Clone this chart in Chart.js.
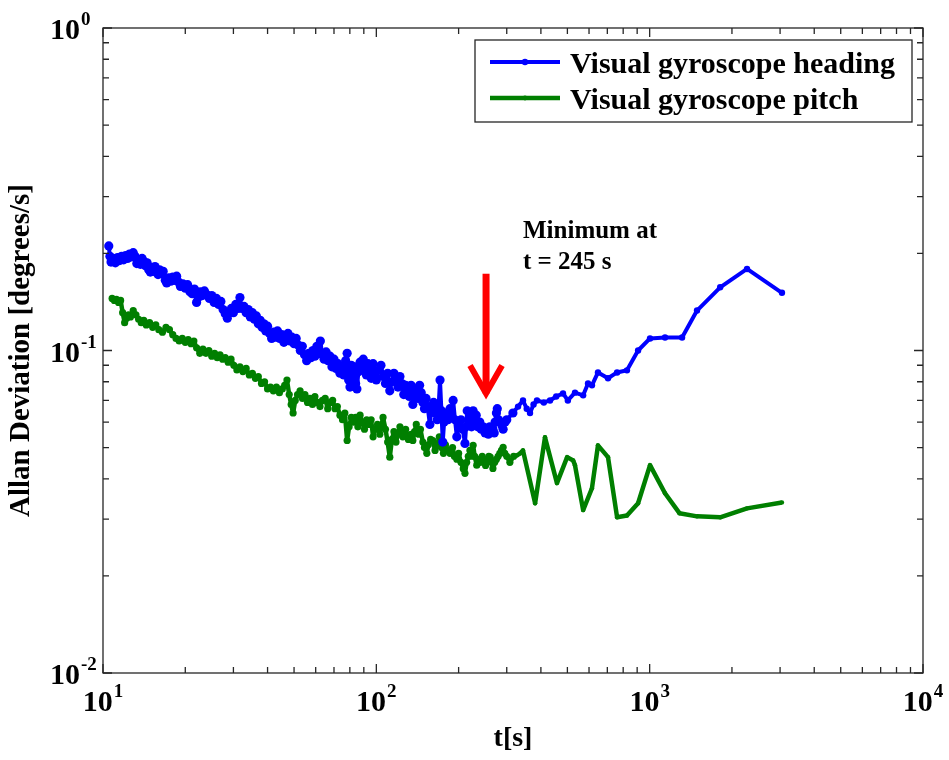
<!DOCTYPE html>
<html>
<head>
<meta charset="utf-8">
<script src="https://cdn.jsdelivr.net/npm/chart.js@4.4.1/dist/chart.umd.min.js"></script>
<style>
html, body { margin: 0; padding: 0; background: #fff; }
#wrap { width: 949px; height: 760px; position: relative; }
</style>
</head>
<body>
<div id="wrap"><canvas id="chart_allanDeviation"></canvas></div>
<script>
// values (tau in s, deviation in deg/s)
var headingTau = [10.5, 10.6, 10.7, 10.9, 11.1, 11.3, 11.5, 11.7, 11.9, 12.1, 12.3, 12.5, 12.7, 12.9, 13.1, 13.3, 13.5, 13.7, 13.9, 14.1,
    14.3, 14.5, 14.7, 14.9, 15.1, 15.3, 15.5, 15.7, 15.9, 16.1, 16.3, 16.6, 16.9, 17.1, 17.4, 17.7, 18.0, 18.3, 18.6, 18.9,
    19.2, 19.6, 20.0, 20.4, 20.8, 21.2, 21.6, 22.0, 22.3, 22.7, 23.1, 23.5, 24.0, 24.5, 25.0, 25.5, 26.0, 26.5, 27.0, 27.5,
    28.0, 28.5, 29.0, 29.5, 30.0, 30.6, 31.2, 31.7, 32.2, 32.8, 33.4, 34.0, 34.6, 35.2, 35.8, 36.4, 37.0, 37.6, 38.2, 38.8,
    39.4, 40.0, 40.7, 41.4, 42.1, 42.8, 43.5, 44.3, 45.1, 45.9, 46.7, 47.5, 48.3, 49.1, 50.0, 50.9, 51.8, 52.7, 53.6, 54.6,
    55.6, 56.6, 57.6, 58.6, 59.6, 60.6, 61.6, 62.4, 63.4, 64.4, 65.5, 66.6, 67.7, 68.8, 70.0, 71.2, 72.4, 73.6, 74.8, 76.0,
    77.2, 78.2, 79.2, 80.1, 81.0, 82.0, 83.0, 84.0, 84.9, 86.0, 87.2, 88.4, 89.6, 90.8, 92.0, 93.2, 94.5, 95.8, 97.3, 98.8,
    100, 102, 104, 106, 108, 110, 112, 114, 116, 118, 120, 122, 124, 126, 128, 130, 132, 134, 136, 138,
    140, 142, 144, 146, 148, 150, 152, 154, 157, 159, 162, 164, 167, 169, 171, 173, 175, 177, 180, 183,
    186, 188, 191, 194, 197, 200, 204, 207, 211, 213, 215, 218, 220, 223, 226, 229, 232, 235, 239, 242,
    246, 250, 254, 257, 260, 264, 267, 270, 272, 275, 277, 280, 284, 288, 291, 296, 300, 316, 330, 344,
    355, 365, 376, 387, 410, 432, 455, 482, 502, 533, 571, 595, 615, 647, 704, 760, 826, 907, 1003, 1138,
    1314, 1490, 1811, 2271, 3048];
var headingDev = [0.211, 0.196, 0.188, 0.193, 0.187, 0.194, 0.190, 0.196, 0.191, 0.197, 0.193, 0.199, 0.195, 0.201, 0.196, 0.186, 0.190, 0.185, 0.193, 0.189,
    0.183, 0.187, 0.178, 0.175, 0.181, 0.176, 0.182, 0.177, 0.172, 0.178, 0.173, 0.176, 0.165, 0.162, 0.168, 0.164, 0.169, 0.165, 0.170, 0.163,
    0.158, 0.161, 0.156, 0.160, 0.152, 0.150, 0.155, 0.141, 0.146, 0.152, 0.148, 0.153, 0.149, 0.145, 0.148, 0.141, 0.145, 0.139, 0.142, 0.134,
    0.130, 0.126, 0.131, 0.135, 0.131, 0.139, 0.135, 0.146, 0.135, 0.137, 0.131, 0.134, 0.127, 0.131, 0.125, 0.128, 0.121, 0.124, 0.118, 0.121,
    0.115, 0.119, 0.113, 0.109, 0.114, 0.110, 0.115, 0.109, 0.112, 0.106, 0.110, 0.113, 0.107, 0.110, 0.105, 0.109, 0.104, 0.100, 0.103, 0.097,
    0.093, 0.098, 0.095, 0.100, 0.096, 0.103, 0.098, 0.107, 0.097, 0.094, 0.099, 0.093, 0.096, 0.089, 0.094, 0.088, 0.091, 0.085, 0.089, 0.084,
    0.093, 0.098, 0.081, 0.077, 0.090, 0.083, 0.089, 0.079, 0.076, 0.086, 0.092, 0.087, 0.094, 0.088, 0.084, 0.091, 0.086, 0.082, 0.091, 0.085,
    0.081, 0.087, 0.090, 0.083, 0.079, 0.085, 0.075, 0.080, 0.085, 0.081, 0.077, 0.083, 0.079, 0.073, 0.078, 0.076, 0.072, 0.078, 0.068, 0.073,
    0.076, 0.071, 0.078, 0.074, 0.069, 0.066, 0.071, 0.067, 0.059, 0.066, 0.069, 0.064, 0.061, 0.067, 0.081, 0.065, 0.052, 0.060, 0.064, 0.061,
    0.066, 0.062, 0.070, 0.061, 0.054, 0.058, 0.061, 0.057, 0.0515, 0.058, 0.065, 0.060, 0.062, 0.058, 0.065, 0.061, 0.063, 0.058, 0.060, 0.057,
    0.058, 0.0555, 0.057, 0.055, 0.058, 0.056, 0.057, 0.0555, 0.060, 0.064, 0.066, 0.061, 0.060, 0.0585, 0.057, 0.060, 0.061, 0.064, 0.067, 0.070,
    0.066, 0.064, 0.068, 0.070, 0.069, 0.070, 0.072, 0.0736, 0.070, 0.074, 0.0726, 0.079, 0.078, 0.0855, 0.082, 0.0855, 0.0868, 0.100, 0.109, 0.1097,
    0.1097, 0.133, 0.157, 0.179, 0.151];

var pitchTau = [10.8, 11.0, 11.2, 11.4, 11.6, 11.8, 12.0, 12.2, 12.4, 12.6, 12.9, 13.2, 13.5, 13.8, 14.1, 14.4, 14.8, 15.2, 15.6, 16.0,
    16.5, 17.0, 17.5, 18.0, 18.5, 19.0, 19.5, 20.0, 20.5, 21.0, 21.5, 22.0, 22.6, 23.2, 23.8, 24.4, 25.0, 25.6, 26.2, 26.8,
    27.4, 28.0, 28.7, 29.4, 30.1, 30.9, 31.7, 32.5, 33.4, 34.3, 35.2, 36.1, 37.0, 38.0, 39.0, 40.0, 41.0, 42.0, 43.1, 44.2,
    45.3, 46.2, 47.1, 48.0, 48.8, 49.6, 50.5, 51.5, 52.6, 53.7, 54.8, 56.0, 57.2, 58.4, 59.6, 60.8, 62.2, 63.5, 65.0, 66.4,
    67.8, 69.2, 70.6, 72.0, 73.6, 75.2, 76.7, 78.2, 79.5, 81.0, 82.5, 84.0, 85.6, 87.2, 88.8, 90.5, 92.2, 94.0, 95.7, 97.3,
    99.0, 101, 103, 105.8, 108, 110, 112, 114, 116, 118, 120, 122, 125, 128, 131, 134, 136, 138, 140, 143,
    145, 148, 150, 153, 155, 158, 161, 164, 167, 170, 173, 176, 179, 183, 186, 190, 193, 197, 200, 204,
    208, 211, 214, 217, 220, 223, 226, 229, 233, 237, 240, 244, 247, 251, 254, 258, 261, 264, 267, 271,
    275, 279, 283, 287, 291, 295, 300, 308, 318, 327, 336, 344, 381, 414, 458, 499, 525, 533, 571, 615,
    647, 704, 760, 826, 907, 1003, 1138, 1285, 1490, 1811, 2271, 3048];
var pitchDev = [0.145, 0.143, 0.144, 0.141, 0.143, 0.131, 0.122, 0.126, 0.129, 0.127, 0.133, 0.129, 0.125, 0.122, 0.124, 0.120, 0.122, 0.118, 0.120, 0.116,
    0.114, 0.118, 0.116, 0.112, 0.109, 0.107, 0.109, 0.106, 0.108, 0.105, 0.107, 0.102, 0.098, 0.101, 0.098, 0.100, 0.096, 0.098, 0.095, 0.097,
    0.094, 0.095, 0.092, 0.094, 0.090, 0.087, 0.089, 0.086, 0.088, 0.084, 0.085, 0.082, 0.083, 0.079, 0.080, 0.076, 0.077, 0.075, 0.077, 0.074,
    0.076, 0.078, 0.081, 0.073, 0.068, 0.064, 0.070, 0.073, 0.075, 0.071, 0.073, 0.069, 0.071, 0.068, 0.072, 0.069, 0.067, 0.070, 0.071, 0.066,
    0.069, 0.070, 0.066, 0.067, 0.063, 0.061, 0.064, 0.0526, 0.058, 0.062, 0.060, 0.062, 0.058, 0.063, 0.060, 0.057, 0.061, 0.059, 0.061, 0.054,
    0.057, 0.059, 0.055, 0.062, 0.057, 0.052, 0.0467, 0.053, 0.056, 0.052, 0.055, 0.058, 0.054, 0.057, 0.053, 0.055, 0.0526, 0.056, 0.059, 0.055,
    0.057, 0.052, 0.050, 0.048, 0.051, 0.053, 0.0526, 0.049, 0.051, 0.054, 0.050, 0.048, 0.051, 0.049, 0.048, 0.050, 0.047, 0.046, 0.048, 0.045,
    0.043, 0.0416, 0.045, 0.047, 0.049, 0.047, 0.0508, 0.047, 0.0441, 0.046, 0.045, 0.047, 0.046, 0.044, 0.045, 0.047, 0.0467, 0.045, 0.0431, 0.045,
    0.046, 0.047, 0.048, 0.049, 0.0501, 0.048, 0.047, 0.045, 0.047, 0.0473, 0.048, 0.049, 0.0336, 0.0538, 0.0388, 0.0467, 0.0456, 0.0441, 0.032, 0.0374,
    0.0508, 0.0467, 0.0304, 0.0308, 0.0336, 0.0441, 0.0361, 0.0313, 0.0306, 0.0304, 0.0324, 0.0338];

var seriesLabels = ['Visual gyroscope heading', 'Visual gyroscope pitch'];
var seriesColors = ['#0000ff', '#007f00'];

var xTickValues = [10, 100, 1000, 10000];
var xTickExponents = ['1', '2', '3', '4'];
var yTickValues = [1, 0.1, 0.01];
var yTickExponents = ['0', '-1', '-2'];

var noteLines = ['Minimum at', 't = 245 s'];
var noteAnchor = {x: 344, y: 0.224};
var arrowAt = {x: 252, from: 0.173, to: 0.0715};

var SERIF = "'Liberation Serif', 'Times New Roman', serif";

function toPoints(xs, ys) {
    return xs.map(function (x, i) { return {x: x, y: ys[i]}; });
}

function minorValues(decades) {
    var out = [];
    decades.forEach(function (d) {
        for (var m = 2; m <= 9; m++) out.push(d * m);
    });
    return out;
}

// markers look heavier where the samples crowd together
function markerSize(dense, sparse) {
    return function (c) { return c.raw && c.raw.x < 320 ? dense : sparse; };
}

// "10" with a raised exponent, centred (x axis) or left-aligned (y axis)
function drawPower(ctx, exp, x, y, centred) {
    ctx.font = 'bold 30px ' + SERIF;
    var w1 = ctx.measureText('10').width;
    ctx.font = 'bold 19px ' + SERIF;
    var w2 = ctx.measureText(exp).width;
    var start = centred ? x - (w1 + w2 + 1) / 2 : x;
    ctx.textAlign = 'left';
    ctx.textBaseline = 'alphabetic';
    ctx.font = 'bold 30px ' + SERIF;
    ctx.fillText('10', start, y);
    ctx.font = 'bold 19px ' + SERIF;
    ctx.fillText(exp, start + w1 + 1, y - 14);
}

var frameAndLabels = {
    id: 'frameAndLabels',
    afterDraw: function (chart) {
        var ctx = chart.ctx;
        var a = chart.chartArea;
        var xs = chart.scales.x, ys = chart.scales.y;
        ctx.save();
        ctx.strokeStyle = '#262626';
        ctx.lineWidth = 1.3;
        ctx.strokeRect(a.left, a.top, a.right - a.left, a.bottom - a.top);

        // inward ticks on all four sides
        ctx.beginPath();
        function xTick(v, len) {
            var px = xs.getPixelForValue(v);
            ctx.moveTo(px, a.bottom); ctx.lineTo(px, a.bottom - len);
            ctx.moveTo(px, a.top); ctx.lineTo(px, a.top + len);
        }
        function yTick(v, len) {
            var py = ys.getPixelForValue(v);
            ctx.moveTo(a.left, py); ctx.lineTo(a.left + len, py);
            ctx.moveTo(a.right, py); ctx.lineTo(a.right - len, py);
        }
        xTickValues.forEach(function (v) { xTick(v, 9); });
        minorValues([10, 100, 1000]).forEach(function (v) { xTick(v, 6); });
        yTickValues.forEach(function (v) { yTick(v, 9); });
        minorValues([0.01, 0.1]).forEach(function (v) { yTick(v, 6); });
        ctx.stroke();

        // tick labels
        ctx.fillStyle = '#000';
        xTickValues.forEach(function (v, i) {
            drawPower(ctx, xTickExponents[i], xs.getPixelForValue(v), a.bottom + 38, true);
        });
        yTickValues.forEach(function (v, i) {
            drawPower(ctx, yTickExponents[i], 50, ys.getPixelForValue(v) + 11, false);
        });

        // annotation: arrow to the minimum and its note
        var ax = xs.getPixelForValue(arrowAt.x);
        var ay0 = ys.getPixelForValue(arrowAt.from);
        var ay1 = ys.getPixelForValue(arrowAt.to);
        ctx.strokeStyle = '#ff0000';
        ctx.lineWidth = 7;
        ctx.lineCap = 'butt';
        ctx.lineJoin = 'miter';
        ctx.beginPath();
        ctx.moveTo(ax, ay0); ctx.lineTo(ax, ay1 - 4);
        ctx.stroke();
        ctx.lineWidth = 6;
        ctx.beginPath();
        ctx.moveTo(ax - 16, ay1 - 32);
        ctx.lineTo(ax, ay1 - 4);
        ctx.lineTo(ax + 16, ay1 - 32);
        ctx.stroke();

        ctx.fillStyle = '#000';
        ctx.font = 'bold 25px ' + SERIF;
        ctx.textAlign = 'left';
        ctx.textBaseline = 'alphabetic';
        var nx = xs.getPixelForValue(noteAnchor.x);
        var ny = ys.getPixelForValue(noteAnchor.y);
        noteLines.forEach(function (line, i) { ctx.fillText(line, nx, ny + i * 31); });

        // legend box in the upper right corner
        var lx0 = 475, ly0 = 40, lx1 = 912, ly1 = 122;
        ctx.fillStyle = '#fff';
        ctx.fillRect(lx0, ly0, lx1 - lx0, ly1 - ly0);
        ctx.strokeStyle = '#262626';
        ctx.lineWidth = 1.3;
        ctx.strokeRect(lx0, ly0, lx1 - lx0, ly1 - ly0);
        chart.data.datasets.forEach(function (ds, i) {
            var cy = 62 + i * 36;
            ctx.strokeStyle = ds.borderColor;
            ctx.lineWidth = ds.borderWidth;
            ctx.beginPath();
            ctx.moveTo(490, cy); ctx.lineTo(560, cy);
            ctx.stroke();
            ctx.fillStyle = ds.borderColor;
            ctx.beginPath();
            ctx.arc(525, cy, i === 0 ? 3.2 : 2.4, 0, Math.PI * 2);
            ctx.fill();
            ctx.fillStyle = '#000';
            ctx.font = 'bold 30px ' + SERIF;
            ctx.fillText(ds.label, 570, cy + 11);
        });
        ctx.restore();
    }
};

var chart_allanDeviation = new Chart(document.getElementById('chart_allanDeviation'), {
    type: 'line',
    data: {
        datasets: [
            {
                label: seriesLabels[0],
                data: toPoints(headingTau, headingDev),
                borderColor: seriesColors[0],
                backgroundColor: seriesColors[0],
                borderWidth: 4,
                borderJoinStyle: 'round',
                pointRadius: markerSize(4.6, 3.2),
                pointBorderWidth: 0,
                tension: 0
            },
            {
                label: seriesLabels[1],
                data: toPoints(pitchTau, pitchDev),
                borderColor: seriesColors[1],
                backgroundColor: seriesColors[1],
                borderWidth: 4.5,
                borderJoinStyle: 'round',
                pointRadius: markerSize(3.6, 2.2),
                pointBorderWidth: 0,
                tension: 0
            }
        ]
    },
    options: {
        animation: false,
        responsive: true,
        maintainAspectRatio: false,
        layout: {
            padding: {top: 28, right: 26, left: 0, bottom: 0}
        },
        plugins: {
            legend: {display: false},
            tooltip: {enabled: false}
        },
        scales: {
            x: {
                type: 'logarithmic',
                min: 10,
                max: 10000,
                grid: {display: false},
                border: {display: false},
                ticks: {display: false},
                title: {
                    display: true,
                    text: 't[s]',
                    color: '#000',
                    font: {family: SERIF, size: 28, weight: 'bold'},
                    padding: {top: 0, bottom: 4}
                },
                afterFit: function (scale) { scale.height = 87; }
            },
            y: {
                type: 'logarithmic',
                min: 0.01,
                max: 1,
                grid: {display: false},
                border: {display: false},
                ticks: {display: false},
                title: {
                    display: true,
                    text: 'Allan Deviation [degrees/s]',
                    color: '#000',
                    font: {family: SERIF, size: 29, weight: 'bold'},
                    padding: {top: 4, bottom: 0}
                },
                afterFit: function (scale) { scale.width = 103; }
            }
        }
    },
    plugins: [frameAndLabels, {
        id: 'whiteBackground',
        beforeDraw: function (chart) {
            var ctx = chart.ctx;
            ctx.save();
            ctx.fillStyle = 'white';
            ctx.fillRect(0, 0, chart.width, chart.height);
            ctx.restore();
        }
    }]
});
</script>
</body>
</html>
